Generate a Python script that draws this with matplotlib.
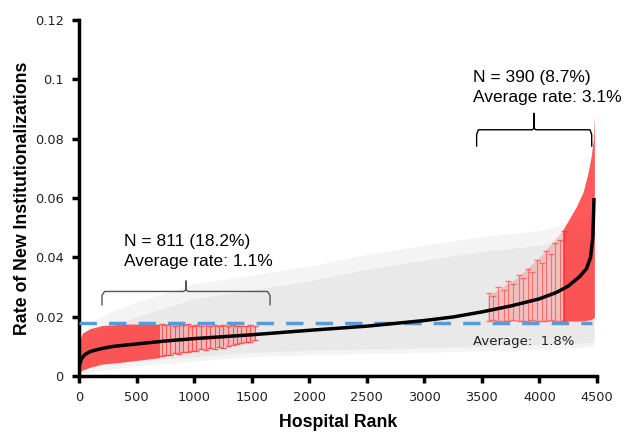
import matplotlib
matplotlib.use("Agg")
import matplotlib.pyplot as plt
import numpy as np

# ---------------- data ----------------
rank_pts = [0, 20, 50, 100, 200, 300, 500, 750, 1000, 1500, 2000, 2500, 3000,
            3250, 3500, 3750, 4000, 4150, 4250, 4350, 4410, 4445, 4465, 4475]
rate = [0.003, 0.0058, 0.0072, 0.0083, 0.0093, 0.0100, 0.0108, 0.0118, 0.0126,
        0.0139, 0.0154, 0.0168, 0.0187, 0.0199, 0.0216, 0.0236, 0.0260, 0.0282,
        0.0303, 0.0335, 0.0362, 0.0400, 0.0470, 0.0600]

gray_rank = [0, 100, 300, 500, 1000, 1500, 2000, 2500, 3000, 3500, 4000, 4300, 4475]
gray_hi = [0.012, 0.018, 0.022, 0.025, 0.031, 0.034, 0.037, 0.041, 0.044, 0.047, 0.049, 0.052, 0.054]
gray_lo = [0.001, 0.0015, 0.0025, 0.0035, 0.005, 0.0065, 0.0072, 0.0076, 0.008, 0.0085, 0.009, 0.0095, 0.010]

low_rank = [0, 30, 100, 200, 400, 700]
low_hi = [0.011, 0.0145, 0.016, 0.017, 0.0175, 0.0175]
low_lo = [0.001, 0.002, 0.003, 0.004, 0.0048, 0.0062]

low_mid_rank = [700, 1000, 1300, 1530]
low_mid_hi = [0.0175, 0.0173, 0.0170, 0.0168]
low_mid_lo = [0.0065, 0.0085, 0.0105, 0.0120]

low_bar_rank = [720, 755, 790, 830, 870, 905, 945, 985, 1020, 1060, 1100, 1140,
                1180, 1215, 1255, 1295, 1335, 1370, 1410, 1450, 1490, 1525]
low_bar_hi = [0.0175, 0.0172, 0.0176, 0.0170, 0.0174, 0.0171, 0.0175, 0.0169, 0.0173,
              0.0170, 0.0174, 0.0168, 0.0172, 0.0169, 0.0173, 0.0168, 0.0171, 0.0167,
              0.0170, 0.0168, 0.0171, 0.0168]
low_bar_lo = [0.0068, 0.0072, 0.0070, 0.0078, 0.0075, 0.0082, 0.0080, 0.0086, 0.0084,
              0.0090, 0.0088, 0.0094, 0.0092, 0.0098, 0.0096, 0.0102, 0.0104, 0.0108,
              0.0110, 0.0113, 0.0116, 0.0120]

high_mid_rank = [3550, 3800, 4000, 4200]
high_mid_hi = [0.027, 0.033, 0.040, 0.049]
high_mid_lo = [0.0186, 0.0186, 0.0185, 0.0185]

high_bar_rank = [3560, 3600, 3640, 3690, 3730, 3770, 3820, 3860, 3900, 3940, 3980,
                 4020, 4060, 4100, 4140, 4180, 4215]
high_bar_hi = [0.028, 0.027, 0.030, 0.029, 0.032, 0.031, 0.034, 0.033, 0.036, 0.035,
               0.039, 0.038, 0.042, 0.041, 0.045, 0.046, 0.049]
high_bar_lo = [0.0185, 0.0188, 0.0184, 0.0187, 0.0185, 0.0189, 0.0184, 0.0187, 0.0185,
               0.0188, 0.0184, 0.0187, 0.0185, 0.0188, 0.0184, 0.0186, 0.0185]

high_rank = [4200, 4260, 4320, 4380, 4420, 4450, 4470, 4478]
high_hi = [0.049, 0.053, 0.057, 0.062, 0.068, 0.074, 0.080, 0.088]
high_lo = [0.0185, 0.0185, 0.0185, 0.0186, 0.0188, 0.019, 0.0195, 0.020]

average_rate = 0.018

x_ticks = [0, 500, 1000, 1500, 2000, 2500, 3000, 3500, 4000, 4500]
y_ticks = [0, 0.02, 0.04, 0.06, 0.08, 0.1, 0.12]
y_tick_labels = ["0", "0.02", "0.04", "0.06", "0.08", "0.1", "0.12"]

# ---------------- figure ----------------
fig = plt.figure(figsize=(6.35, 4.47), dpi=100)
ax = fig.add_axes([0.1244, 0.1588, 0.8156, 0.7965])

# gray error-bar band
ax.fill_between(gray_rank, gray_lo, gray_hi, color="#f4f4f4", lw=0, zorder=1)
ax.fill_between(gray_rank, np.array(gray_lo) + 0.0015, np.array(gray_hi) - 0.005,
                color="#e9e9e9", lw=0, zorder=1)

# red bands
ax.fill_between(low_rank, low_lo, low_hi, color="#ff2a2a", alpha=0.78, lw=0, zorder=2)
ax.fill_between(low_mid_rank, low_mid_lo, low_mid_hi, color="#ff6060", alpha=0.35,
                lw=0, zorder=2)
ax.errorbar(low_bar_rank,
            [(h + l) / 2 for h, l in zip(low_bar_hi, low_bar_lo)],
            yerr=[(h - l) / 2 for h, l in zip(low_bar_hi, low_bar_lo)],
            fmt="none", ecolor="#ff3a3a", elinewidth=0.8, capsize=2, alpha=0.8, zorder=2)
ax.fill_between(high_mid_rank, high_mid_lo, high_mid_hi, color="#ff6060", alpha=0.3,
                lw=0, zorder=2)
ax.errorbar(high_bar_rank,
            [(h + l) / 2 for h, l in zip(high_bar_hi, high_bar_lo)],
            yerr=[(h - l) / 2 for h, l in zip(high_bar_hi, high_bar_lo)],
            fmt="none", ecolor="#ff4a4a", elinewidth=0.8, capsize=2, alpha=0.7, zorder=2)
ax.fill_between(high_rank, high_lo, high_hi, color="#ff2a2a", alpha=0.78, lw=0, zorder=2)

# average line
ax.plot([0, 4460], [average_rate, average_rate], color="#5b9bd5", lw=2.5,
        dashes=(5, 3.5), zorder=3)

# rate curve
ax.plot(rank_pts, rate, color="black", lw=2.5, zorder=4, solid_capstyle="butt")

# axes styling
ax.set_xlim(0, 4500)
ax.set_ylim(0, 0.12)
ax.set_xticks(x_ticks)
ax.set_yticks(y_ticks)
ax.set_yticklabels(y_tick_labels)
for s in ["top", "right"]:
    ax.spines[s].set_visible(False)
for s in ["left", "bottom"]:
    ax.spines[s].set_linewidth(2.5)
ax.tick_params(axis="both", direction="out", length=5, width=2.5, labelsize=9.3,
               pad=6, colors="black")
for lab in ax.get_xticklabels() + ax.get_yticklabels():
    lab.set_family("DejaVu Sans")
    lab.set_color("#222222")

ax.set_xlabel("Hospital Rank", fontsize=12.8, fontweight="bold",
              family="Liberation Sans", labelpad=7)
ax.set_ylabel("Rate of New Institutionalizations", fontsize=12.8, fontweight="bold",
              family="Liberation Sans", labelpad=3)


def brace(ax, x0, x1, y_end, y_mid, y_tip, color):
    xm = (x0 + x1) / 2
    dx = (x1 - x0) * 0.015
    dy = (y_mid - y_end)
    xs = [x0, x0, x0 + dx, xm - dx, xm, xm, xm, xm + dx, x1 - dx, x1, x1]
    ys = [y_end, y_end + dy * 0.7, y_mid, y_mid, y_mid + 0.0005, y_tip,
          y_mid + 0.0005, y_mid, y_mid, y_mid - dy * 0.3, y_end]
    ax.plot(xs, ys, color=color, lw=1.0, zorder=5)


brace(ax, 200, 1660, 0.0240, 0.0285, 0.0320, "#555555")
brace(ax, 3455, 4455, 0.0775, 0.0830, 0.0885, "black")

font_ann = dict(fontsize=12.5, family="Liberation Sans")
ax.text(390, 0.0438, "N = 811 (18.2%)", va="baseline", **font_ann)
ax.text(390, 0.0370, "Average rate: 1.1%", va="baseline", **font_ann)
ax.text(3425, 0.0991, "N = 390 (8.7%)", va="baseline", **font_ann)
ax.text(3425, 0.0923, "Average rate: 3.1%", va="baseline", **font_ann)
ax.text(3425, 0.0105, "Average:  1.8%", va="baseline", fontsize=9.5,
        family="DejaVu Sans", color="#222222")

fig.savefig("out.png", dpi=100)
